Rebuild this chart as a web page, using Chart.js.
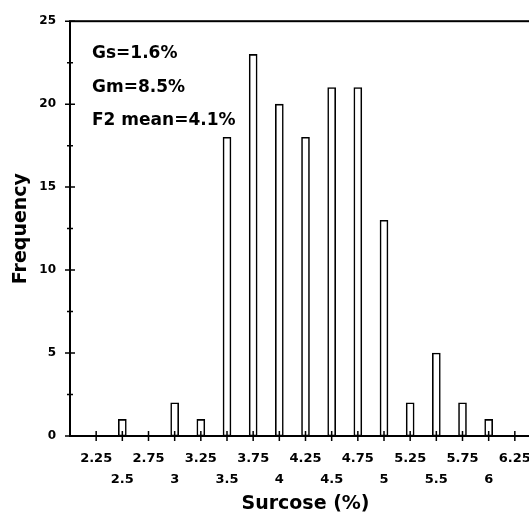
<!DOCTYPE html>
<html>
<head>
<meta charset="utf-8">
<script src="https://cdn.jsdelivr.net/npm/chart.js@4/dist/chart.umd.min.js"></script>
<style>
html,body{margin:0;padding:0;overflow:hidden;background:#fff;}
#wrap{width:560px;height:518px;position:relative;}
</style>
</head>
<body>
<div id="wrap"><canvas id="c"></canvas></div>
<script>
const sucrose = [2.5, 3, 3.25, 3.5, 3.75, 4, 4.25, 4.5, 4.75, 5, 5.25, 5.5, 5.75, 6];
const frequency = [1, 2, 1, 18, 23, 20, 18, 21, 21, 13, 2, 5, 2, 1];
const xTickLabels = ['2.25','2.5','2.75','3','3.25','3.5','3.75','4','4.25','4.5','4.75','5','5.25','5.5','5.75','6','6.25'];
const yTickLabels = ['0','5','10','15','20','25'];
const notes = ['Gs=1.6%', 'Gm=8.5%', 'F2 mean=4.1%'];

const FONT = 'DejaVu Sans';

const framePlugin = {
  id: 'frame',
  afterDraw(chart) {
    const ctx = chart.ctx;
    const a = chart.chartArea;
    const xs = chart.scales.x, ys = chart.scales.y;
    ctx.save();
    ctx.strokeStyle = '#000';
    ctx.lineWidth = 2;
    ctx.strokeRect(a.left, a.top, a.right - a.left, a.bottom - a.top);
    ctx.lineWidth = 1.5;
    ctx.beginPath();
    xs.ticks.forEach(t => {
      const px = xs.getPixelForValue(t.value);
      ctx.moveTo(px, a.bottom - 5);
      ctx.lineTo(px, a.bottom + 5);
    });
    ys.ticks.forEach(t => {
      const py = ys.getPixelForValue(t.value);
      const len = (t.value % 5 === 0) ? 5 : 3;
      ctx.moveTo(a.left - len, py);
      ctx.lineTo(a.left + len, py);
    });
    ctx.stroke();
    ctx.fillStyle = '#000';
    ctx.font = 'bold 17px "' + FONT + '"';
    ctx.textBaseline = 'alphabetic';
    ctx.textAlign = 'left';
    notes.forEach((s, i) => {
      ctx.fillText(s, a.left + 22, a.top + 37 + i * 33.5);
    });
    ctx.restore();
  }
};

new Chart(document.getElementById('c'), {
  type: 'bar',
  data: {
    datasets: [{
      data: sucrose.map((x, i) => ({x: x, y: frequency[i]})),
      backgroundColor: '#fff',
      borderColor: '#000',
      borderWidth: 1.6,
      borderSkipped: false,
      barThickness: 8
    }]
  },
  options: {
    responsive: true,
    maintainAspectRatio: false,
    animation: false,
    devicePixelRatio: 1,
    layout: {padding: {top: 20, right: 19, left: 0, bottom: 0}},
    plugins: {legend: {display: false}, tooltip: {enabled: false}},
    scales: {
      x: {
        type: 'linear',
        offset: false,
        min: 2,
        max: 6.5,
        grid: {display: false, drawTicks: false, offset: false},
        border: {display: false},
        afterBuildTicks(scale) {
          scale.ticks = xTickLabels.map(v => ({value: parseFloat(v)}));
        },
        afterFit(scale) { scale.height = 82; },
        ticks: {
          autoSkip: false,
          maxRotation: 0,
          minRotation: 0,
          padding: 12,
          color: '#000',
          font: {family: FONT, weight: 'bold', size: 13, lineHeight: 1.6},
          callback(value, index) {
            const lbl = xTickLabels[index];
            return index % 2 === 0 ? [lbl, ' '] : [' ', lbl];
          }
        },
        title: {
          display: true,
          text: 'Surcose (%)',
          color: '#000',
          font: {family: FONT, weight: 'bold', size: 19},
          padding: {top: 0, bottom: 3}
        }
      },
      y: {
        min: 0,
        max: 25,
        grid: {display: false, drawTicks: false},
        border: {display: false},
        afterFit(scale) { scale.width = 70; },
        ticks: {
          stepSize: 2.5,
          padding: 14,
          color: '#000',
          font: {family: FONT, weight: 'bold', size: 12},
          callback(value) {
            return value % 5 === 0 ? yTickLabels[value / 5] : '';
          }
        },
        title: {
          display: true,
          text: 'Frequency',
          color: '#000',
          font: {family: FONT, weight: 'bold', size: 19},
          padding: {top: 10, bottom: 0}
        }
      }
    }
  },
  plugins: [framePlugin]
});
</script>
</body>
</html>
